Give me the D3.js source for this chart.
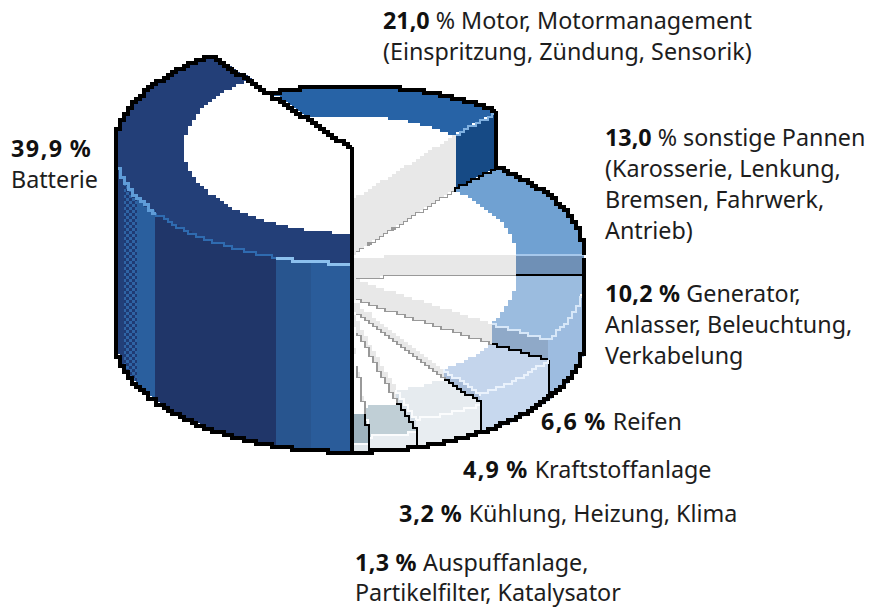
<!DOCTYPE html>
<html><head><meta charset="utf-8">
<script src="https://cdn.jsdelivr.net/npm/d3@7/dist/d3.min.js"></script>
<style>html,body{margin:0;background:#fff}svg{display:block}
text{font-family:"Noto Sans",sans-serif;font-size:23.3px;fill:#1d1d1d}
tspan.b{font-weight:700;fill:#111}</style></head><body>
<svg id="c" width="869" height="607"></svg>
<script>
// ---- data ----
const shares   = [39.9, 21.0, 13.0, 10.2, 6.6, 4.9, 3.2, 1.3];
const shareNum = ["39,9","21,0","13,0","10,2","6,6","4,9","3,2","1,3"];
const heading  = ["","Motor, Motormanagement","sonstige Pannen","Generator,","Reifen","Kraftstoffanlage","Kühlung, Heizung, Klima","Auspuffanlage,"];
const moreText = [["Batterie"],["(Einspritzung, Zündung, Sensorik)"],["(Karosserie, Lenkung,","Bremsen, Fahrwerk,","Antrieb)"],["Anlasser, Beleuchtung,","Verkabelung"],[],[],[],["Partikelfilter, Katalysator"]];
// ---- drawing settings ----
const wedgeHeights = [189,136,80,59,38,28,15,9];
const edgeNudgeDeg = [0,0,2.5,0,0,0,0,0];
const ringFill = ["#233f78","#2763a6","#70a1d2","#9bbcdf","#c4d5ec","#e6ebef","#c0cfd6","#9db2bd"];
const wallFill = ["#203669","#164a85","#164a85","#9dbce0","#c7d8ee","#e8edf1","#e8edf1","#dfe6ea"];
const stepFill = ["#fff","#164a85","#6f90b6","#8fa9c8","#a9bdd9","#d5dee6","#c0cfd6","#9db2bd"];
const edgeGlow = [null,"#7fb0e0","#a6c8ec","#d7e7f8","#eaf2fc","#fbfcfd","#fbfcfd","#fbfcfd"];
const labelX = [11,383,605,605,541,463,399,355];
const labelY = [157,29,146,302,430,478,522,571];
const lineGap = [31,31,31,31,31,31,31,30];
const boldPct = [true,false,false,true,true,true,true,true];
const boldSpacing = [1.5,0,0,0.3,1.3,1.3,0.8,0.4];

const cx=350, baseY=337, rx=235, ry=115, irx=166, iry=85, gx=4, gy=3;
const rad=d=>d*Math.PI/180;
const svg=d3.select("#c");

const pie=d3.pie().sort(null).startAngle(Math.PI).endAngle(3*Math.PI);
const arcs=pie(shares);
const edges=arcs.map((d,i)=>d.endAngle+rad(edgeNudgeDeg[i]));
const starts=arcs.map((d,i)=>i?edges[i-1]:d.startAngle);
const topY=i=>baseY-wedgeHeights[i];
const EAST=rad(450);

const pt=(a,kx,ky,y0)=>[cx+kx*Math.sin(a),y0-ky*Math.cos(a)];
const arcPts=(a0,a1,kx,ky,y0)=>{const n=Math.max(2,Math.ceil(Math.abs(a1-a0)/rad(.5)));
  return d3.range(n+1).map(k=>pt(a0+(a1-a0)*k/n,kx,ky,y0));};
const snap=p=>[Math.round(p[0]/gx)*gx,Math.round(p[1]/gy)*gy];
const stair=d3.line().curve(d3.curveStepAfter);
const dense=pts=>{const out=[];pts.forEach((p,i)=>{if(!i){out.push(p);return;}
  const q=pts[i-1],n=Math.max(1,Math.ceil(Math.hypot(p[0]-q[0],p[1]-q[1])/1.5));
  for(let k=1;k<=n;k++)out.push([q[0]+(p[0]-q[0])*k/n,q[1]+(p[1]-q[1])*k/n]);});return out;};
const pix=pts=>{const s=dense(pts).map(snap).filter((p,i,a)=>!i||p[0]!=a[i-1][0]||p[1]!=a[i-1][1]);return stair(s);};
const poly=(pts,fill,g=svg)=>g.append("path").attr("d",pix(pts.concat([pts[0]]))+"Z").attr("fill",fill).attr("shape-rendering","crispEdges");
const line=(pts,col,w=3,g=svg)=>g.append("path").attr("d",pix(pts)).attr("fill","none").attr("stroke",col).attr("stroke-width",w).attr("shape-rendering","crispEdges");

const defs=svg.append("defs");
const pat=defs.append("pattern").attr("id","dither").attr("width",6).attr("height",6).attr("patternUnits","userSpaceOnUse");
pat.append("rect").attr("width",6).attr("height",6).attr("fill","#1f3a73");
pat.append("rect").attr("width",3).attr("height",3).attr("fill","#2f64a5");
pat.append("rect").attr("x",3).attr("y",3).attr("width",3).attr("height",3).attr("fill","#2f64a5");

function topFace(i,a0,a1,y){
  poly([[cx,y]].concat(arcPts(a0,a1,irx,iry,y)),"#fff");
  poly(arcPts(a0,a1,rx,ry,y).concat(arcPts(a1,a0,irx,iry,y)),ringFill[i]);
}
function wedge(i){
  const a0=starts[i],a1=edges[i],y=topY(i);
  const w0=Math.max(a0,EAST);
  if(a1>w0){
    poly(arcPts(w0,a1,rx,ry,y).concat(arcPts(a1,w0,rx,ry,baseY)),wallFill[i]);
  }
  topFace(i,a0,a1,y);
  if(a1>w0) line(arcPts(w0,a1,rx,ry,y),edgeGlow[i],2);
  if(i<shares.length-1){
    const yn=topY(i+1);
    const iT=pt(a1,irx,iry,y),oT=pt(a1,rx,ry,y),iB=pt(a1,irx,iry,yn),oB=pt(a1,rx,ry,yn);
    poly([[cx,y],iT,iB,[cx,yn]],"#e8e8e8");
    poly([iT,oT,oB,iB],stepFill[i]);
    line([iT,oT],edgeGlow[i],2);
    line([[cx+6,yn+(iB[1]-yn)*6/(iB[0]-cx)],iB],"#999",3);
    line([iB,oB],"#000",4);
    if(a1>EAST) line([oB,pt(a1,rx,ry,baseY)],"#000",4);
  }
}
for(let i=1;i<shares.length;i++) wedge(i);

line(arcPts(starts[1],edges[1],rx,ry,topY(1)),"#000",4);
line([pt(edges[1],rx,ry,topY(1)),pt(edges[1],rx,ry,topY(2))],"#000",4);
line(arcPts(starts[2],edges[2],rx,ry,topY(2)),"#000",4);
line([pt(EAST,rx,0,topY(2)),pt(EAST,rx,0,baseY)],"#000",4);

{
  const a0=starts[0],a1=edges[0],y=topY(0);
  const clip=defs.append("clipPath").attr("id","batWall");
  const wp=arcPts(rad(180),rad(270),rx,ry,y).concat(arcPts(rad(270),rad(180),rx,ry,baseY));
  clip.append("path").attr("d",pix(wp.concat([wp[0]]))+"Z");
  const g=svg.append("g").attr("clip-path","url(#batWall)");
  const bands=[[-240,-226,"#223f78"],[-226,-213,"url(#dither)"],[-213,-195,"#2a5f9e"],[-195,-74,"#203669"],[-74,-39,"#28558f"],[-39,2,"#2a5c9a"]];
  g.selectAll("rect").data(bands).join("rect")
   .attr("x",d=>cx+d[0]).attr("width",d=>d[1]-d[0]).attr("y",100).attr("height",380).attr("fill",d=>d[2]);
  topFace(0,a0,a1,y);
  const angAt=x=>Math.PI+Math.asin((cx-x)/rx);
  line(arcPts(rad(180),angAt(cx-74),rx,ry,y),"#8cc0ee",3);
  line(arcPts(angAt(cx-74),angAt(cx-195),rx,ry,y),"#2f6bb0",2);
  line(arcPts(angAt(cx-195),rad(262),rx,ry,y),"#5f9cd8",3);
  line(arcPts(rad(270),a1,rx,ry,y),"#000",4);
  line([pt(a1,rx,ry,y),[cx,y]],"#000",4);
  line([[cx-rx,y-9],[cx-rx,baseY+9]],"#000",4);
  line([[cx+1,y],[cx+1,baseY+ry]],"#000",4);
}
line(arcPts(rad(90),rad(270),rx,ry,baseY),"#000",4);

shares.forEach((v,i)=>{
  const t=svg.append("text").attr("x",labelX[i]).attr("y",labelY[i]);
  t.append("tspan").attr("class","b").attr("letter-spacing",boldSpacing[i]).text(shareNum[i]);
  t.append("tspan").text(" ");
  t.append("tspan").attr("class",boldPct[i]?"b":null).attr("letter-spacing",boldSpacing[i]).text("%");
  if(heading[i]) t.append("tspan").text(" "+heading[i]);
  moreText[i].forEach((m,k)=>t.append("tspan").attr("x",labelX[i]).attr("y",labelY[i]+lineGap[i]*(k+1)).text(m));
});
</script></body></html>
